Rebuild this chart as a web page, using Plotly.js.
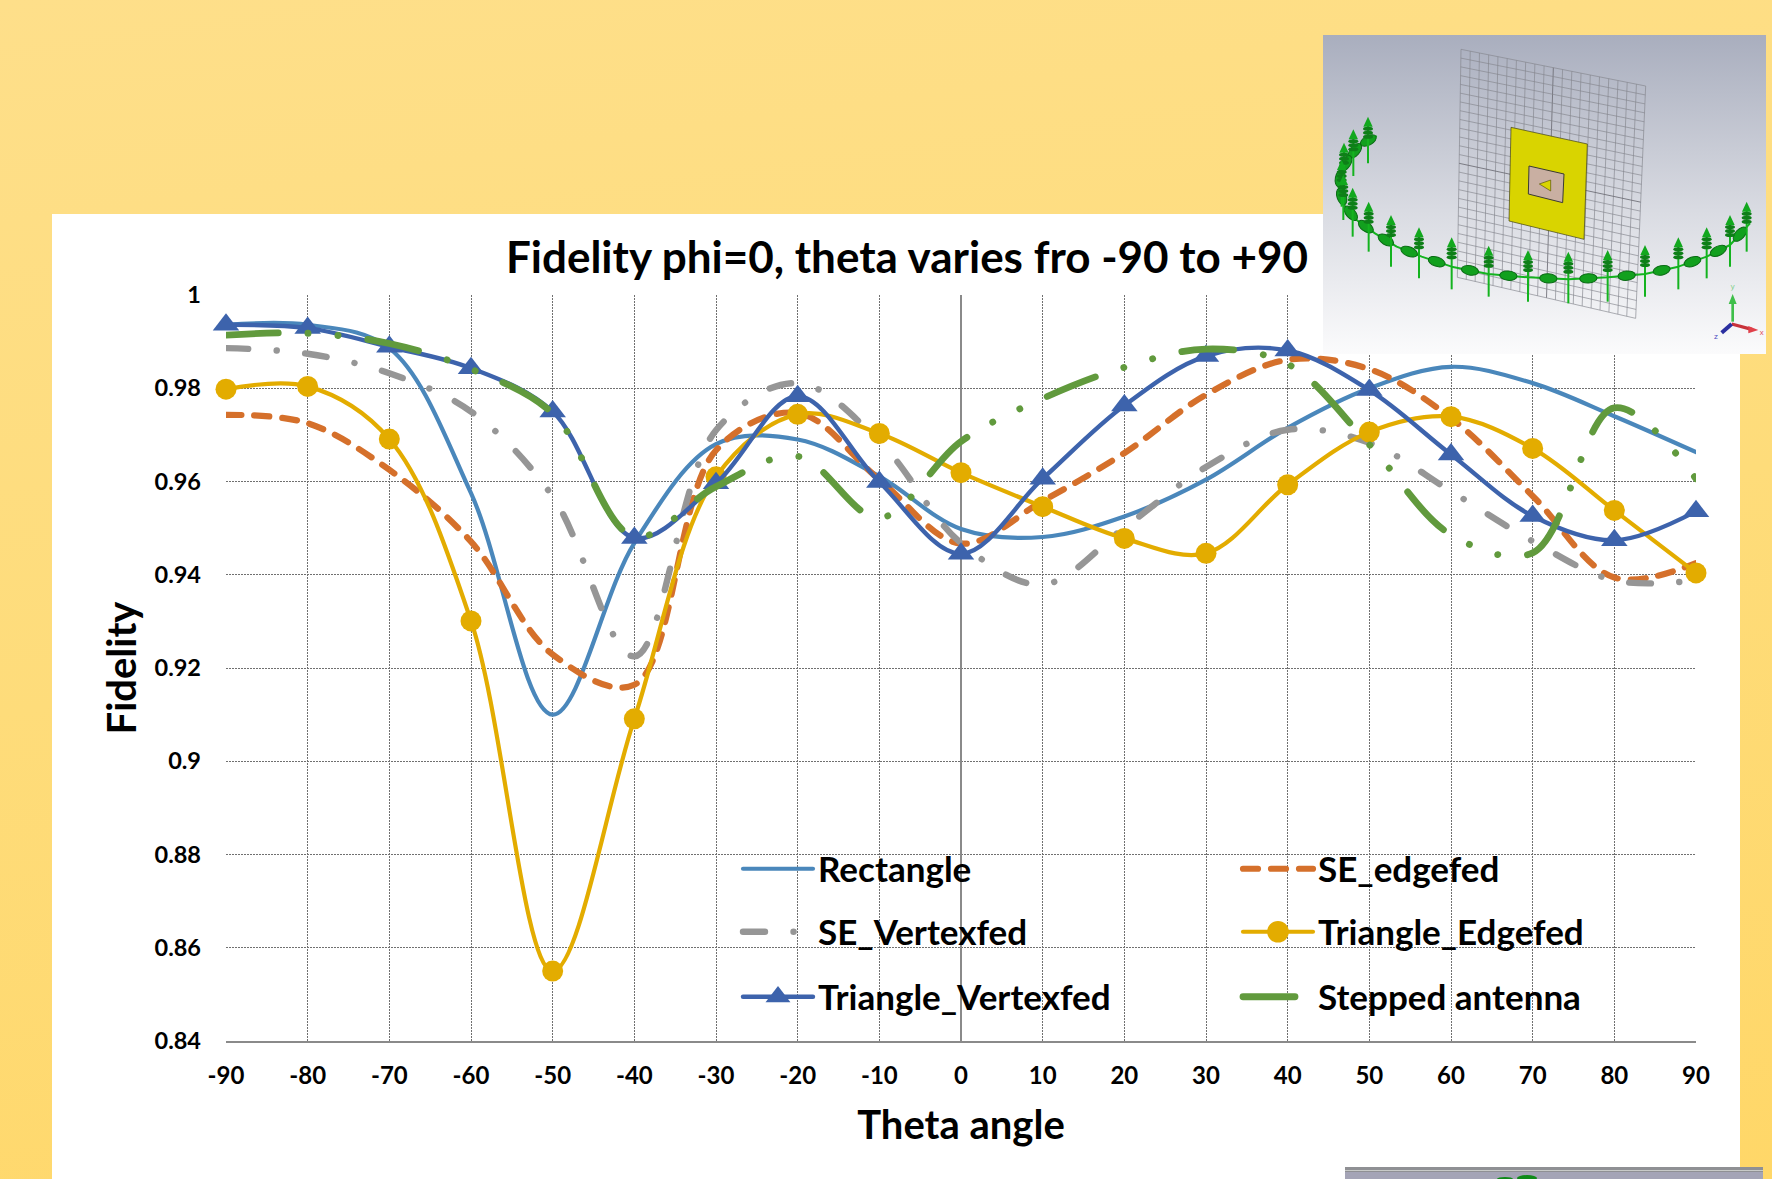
<!DOCTYPE html>
<html><head><meta charset="utf-8">
<script src="https://cdn.plot.ly/plotly-3.0.1.min.js"></script>
<style>
html,body{margin:0;padding:0;width:1772px;height:1179px;overflow:hidden;background:linear-gradient(172deg,#FEDF8A 0%,#FEDC7A 50%,#FFD768 100%);}
#panel{position:absolute;left:52px;top:214px;width:1688px;height:965px;background:#fff;}
#chart{position:absolute;left:0;top:0;width:1772px;height:1179px;}
#inset{position:absolute;left:1323px;top:35px;width:443px;height:319px;}
#inset2{position:absolute;left:1345px;top:1167px;width:418px;height:12px;}
</style></head><body>
<div id="panel"></div><div id="chart"></div>
<svg id="inset" viewBox="69 45 1329 957" xmlns="http://www.w3.org/2000/svg"></svg>
<svg id="inset2" viewBox="0 0 418 12" xmlns="http://www.w3.org/2000/svg"><rect width="418" height="12" fill="#A4A4B6"/><rect width="418" height="3" fill="#8F9094"/><rect y="3" width="418" height="1" fill="#C8CAC8"/><rect y="4" width="418" height="1" fill="#8F9094"/><ellipse cx="182" cy="11" rx="10" ry="3" fill="#0E8A18"/><ellipse cx="160" cy="12" rx="8" ry="2" fill="#0E8A18"/></svg>
<script>
var theta=[-90,-80,-70,-60,-50,-40,-30,-20,-10,0,10,20,30,40,50,60,70,80,90];
var rectangle=[.9936,.9936,.9886,.9575,.910,.9468,.968,.969,.9611,.9498,.9481,.9525,.9604,.9715,.98,.9846,.9811,.974,.9663];
var seEdgefed=[.9743,.9725,.9625,.9471,.9229,.9164,.9667,.9747,.9604,.9467,.9558,.9661,.9786,.9861,.9841,.9736,.9569,.9394,.9425];
var seVertexfed=[.9886,.9874,.9832,.975,.9568,.9225,.971,.9811,.9686,.9468,.9379,.9501,.9631,.9711,.9683,.9579,.9472,.9388,.9388];
var triEdgefed=[.9798,.9804,.9691,.9301,.855,.9091,.961,.9744,.9703,.9619,.9546,.9478,.9446,.9593,.9706,.9739,.9671,.9538,.9404];
var triVertexfed=[.9936,.9929,.9889,.9843,.975,.9479,.9596,.9783,.9599,.9445,.9606,.9763,.9869,.9881,.9796,.9658,.9526,.9474,.9536];
var stepped=[.9914,.9918,.9896,.9841,.9746,.9482,.9589,.9654,.9522,.9686,.9778,.9845,.9884,.9852,.9679,.9486,.9447,.9758,.9606];
var yTicks=[.84,.86,.88,.9,.92,.94,.96,.98,1];
var xTicks=theta;
var F='Lato, "Noto Sans", sans-serif';
function tr(name,y,color,w,dash,legend,marker){
  var t={type:'scatter',x:theta,y:y,name:name,legend:legend,mode:marker?'lines+markers':'lines',
    line:{color:color,width:w,dash:dash,shape:'spline',smoothing:1},hoverinfo:'skip',cliponaxis:false};
  if(marker)t.marker=marker;
  return t;
}
var data=[
 tr('Rectangle',rectangle,'#4A87BB',4.2,'solid','legend'),
 tr('SE_edgefed',seEdgefed,'#D5702B',6.2,'15px,13px','legend'),
 tr('SE_Vertexfed',seVertexfed,'#969696',6.4,'22px,28.5px,0.1px,28.5px','legend2'),
 tr('Triangle_Edgefed',triEdgefed,'#E3AC00',4.2,'solid','legend2',{symbol:'circle',size:21,color:'#E3AC00'}),
 tr('Triangle_Vertexfed',triVertexfed,'#3D63AC',4.4,'solid','legend3',{symbol:'triangle-up',size:23,color:'#3D63AC'}),
 tr('Stepped antenna',stepped,'#619A3D',6.8,'52px,30px,0.1px,30px,0.1px,30px','legend3')
];
function leg(yPx){return {orientation:'h',x:(738-226)/1470,xanchor:'left',y:1-(yPx-295)/746,yanchor:'middle',
  bgcolor:'rgba(0,0,0,0)',borderwidth:0,entrywidth:415,entrywidthmode:'pixels',itemwidth:70,traceorder:'normal',itemclick:false,itemdoubleclick:false,
  font:{family:F,size:35,color:'#000',weight:700}};}
var layout={width:1772,height:1179,paper_bgcolor:'rgba(0,0,0,0)',plot_bgcolor:'rgba(0,0,0,0)',
 margin:{l:226,r:75.5,t:295,b:138,autoexpand:false},showlegend:true,hovermode:false,
 font:{family:F,color:'#000'},
 title:{text:'<b>Fidelity phi=0, theta varies fro -90 to +90</b>',x:907/1772,xanchor:'center',xref:'container',y:1-258/1179,yanchor:'middle',yref:'container',font:{family:F,size:44,color:'#000'}},
 xaxis:{range:[-90,90],tickmode:'array',tickvals:xTicks,ticktext:xTicks.map(String),showgrid:true,gridcolor:'#707070',griddash:'1.5px,1.5px',gridwidth:1,
   zeroline:true,zerolinecolor:'#8a8a8a',zerolinewidth:1.5,showline:true,linecolor:'#8a8a8a',linewidth:1.5,ticks:'',ticklabelstandoff:13,
   tickfont:{family:F,size:24,color:'#000',weight:700},
   title:{text:'<b>Theta angle</b>',standoff:22,font:{family:F,size:40,color:'#000'}}},
 yaxis:{range:[.84,1],tickmode:'array',tickvals:yTicks,ticktext:yTicks.map(function(v){return String(v).replace(/^\./,'0.');}),showgrid:true,gridcolor:'#707070',griddash:'1.5px,1.5px',gridwidth:1,
   zeroline:false,showline:false,ticks:'',ticklabelstandoff:24,
   tickfont:{family:F,size:23.5,color:'#000',weight:700},
   title:{text:'<b>Fidelity</b>',standoff:5,font:{family:F,size:40,color:'#000'}}},
 legend:leg(869),legend2:leg(932),legend3:leg(997)
};
Plotly.newPlot('chart',data,layout,{displayModeBar:false,staticPlot:true}).then(function(gd){
  gd.querySelectorAll('.scatterlayer .js-line, .legendlines .js-line').forEach(function(p){p.style.strokeLinecap='round';});
  gd.querySelectorAll('.legendpoints path.scatterpts').forEach(function(p){var t=p.getAttribute('transform')||'';p.setAttribute('transform',t+' scale(1.35)');});
});

/* decorative inset picture of the antenna (not data) */
(function(){
 var s=document.getElementById('inset'),h='<defs><linearGradient id="bg" x1="0" y1="0" x2="0" y2="1"><stop offset="0" stop-color="#A9AEBE"/><stop offset=".55" stop-color="#D9DBE2"/><stop offset="1" stop-color="#FBFBFC"/></linearGradient></defs><rect x="69" y="45" width="1329" height="957" fill="url(#bg)"/>';
 var TL=[483,88],TR=[1037,198],BR=[1007,895],BL=[472,772];
 function P(u,v){var a=TL[0]+(TR[0]-TL[0])*u,b=TL[1]+(TR[1]-TL[1])*u,c=BL[0]+(BR[0]-BL[0])*u,d=BL[1]+(BR[1]-BL[1])*u;return [a+(c-a)*v,b+(d-b)*v];}
 function L(a,b,c,w){return '<line x1="'+a[0]+'" y1="'+a[1]+'" x2="'+b[0]+'" y2="'+b[1]+'" stroke="'+c+'" stroke-width="'+w+'"/>';}
 var NU=20,NV=26;
 for(var i=0;i<=NU;i++){var mid=i==10;h+=L(P(i/NU,0),P(i/NU,1),mid?'#6d6d75':'#85868e',mid?2.6:2);}
 for(var j=0;j<=NV;j++){var m2=j==13;h+=L(P(0,j/NV),P(1,j/NV),m2?'#6d6d75':'#85868e',m2?2.6:2);}
 h+='<polygon points="633,322 862,372 852,658 627,603" fill="#D9D400" stroke="#3a3a10" stroke-width="2"/>';
 h+='<polygon points="687,438 792,462 788,548 685,522" fill="#C9AFA2" stroke="#3b3a32" stroke-width="3"/>';
 h+='<polygon points="752,480 718,492 752,513" fill="#D9D400" stroke="#55520a" stroke-width="2"/>';
 var curve=[[230,348],[180,375],[150,410],[125,450],[115,500],[135,560],[170,600],[225,640],[290,680],[365,710],[455,740],[565,762],[685,772],[805,778],[925,772],[1035,762],[1135,740],[1220,710],[1290,675],[1350,610]];
 var d='M'+curve.map(function(p){return p.join(',');}).join(' L');
 h+='<path d="'+d+'" fill="none" stroke="#14B31F" stroke-width="6" stroke-linejoin="round"/>';
 for(var k=0;k<curve.length-1;k++){var a=curve[k],b=curve[k+1],mx=(a[0]+b[0])/2,my=(a[1]+b[1])/2,ang=Math.atan2(b[1]-a[1],b[0]-a[0])*180/Math.PI;
  h+='<ellipse cx="'+mx+'" cy="'+my+'" rx="26" ry="14" fill="#12A01E" stroke="#0A6B14" stroke-width="3" transform="rotate('+ang+' '+mx+' '+my+')"/>';}
 var arrows=[[204,290,430],[160,328,468],[132,368,510],[125,420,560],[130,465,600],[158,503,650],[206,545,695],[273,585,740],[357,622,775],[455,652,808],[566,677,830],[684,690,845],[805,695,850],[923,690,845],[1035,675,830],[1135,652,808],[1220,622,775],[1290,585,740],[1340,545,695]];
 arrows.forEach(function(a){var x=a[0],t=a[1],e=a[2];
  h+=L([x,t+20],[x,e],'#14B31F',6);
  h+='<polygon points="'+x+','+t+' '+(x+14)+','+(t+30)+' '+(x-14)+','+(t+30)+'" fill="#12A81E"/>';
  [36,48,60].forEach(function(o){h+='<ellipse cx="'+x+'" cy="'+(t+o)+'" rx="15" ry="6" fill="#0E7F18"/>';});
 });
 h+=L([1298,905],[1298,850],'#3FBF4A',8)+'<polygon points="1298,822 1310,852 1286,852" fill="#3FBF4A"/>';
 h+=L([1295,912],[1355,928],'#C8323A',10)+'<polygon points="1375,930 1345,918 1345,940" fill="#E0404A"/>';
 h+=L([1295,912],[1265,938],'#2A2FA0',12);
 h+='<text x="1298" y="808" font-size="22" text-anchor="middle" fill="#7fcf88" font-family="DejaVu Sans">y</text>';
 h+='<text x="1385" y="946" font-size="22" text-anchor="middle" fill="#e2556a" font-family="DejaVu Sans">x</text>';
 h+='<text x="1248" y="958" font-size="22" text-anchor="middle" fill="#4a48c0" font-family="DejaVu Sans">z</text>';
 s.innerHTML=h;
})();
</script></body></html>
